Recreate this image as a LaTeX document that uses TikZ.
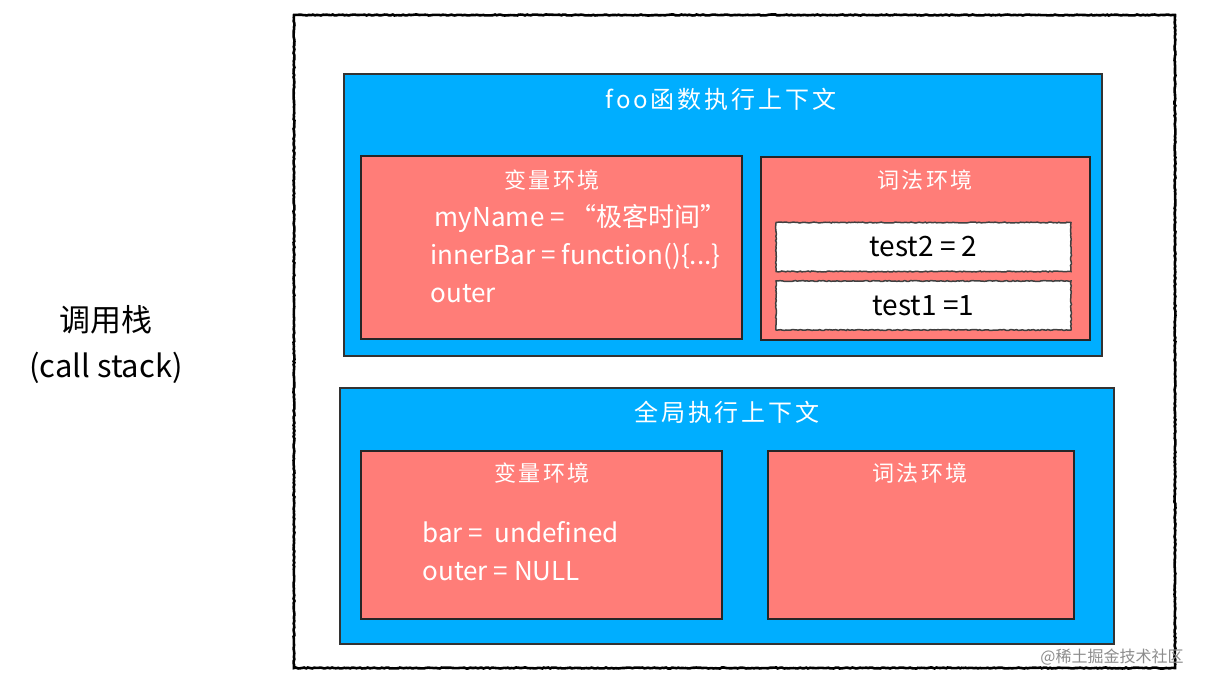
\documentclass[tikz,border=0pt]{standalone}
\usepackage{fontspec}
\usetikzlibrary{decorations.pathmorphing}
\setmainfont{Noto Sans CJK SC}
\newfontfamily\cjkwide[LetterSpace=12]{Noto Sans CJK SC}
\definecolor{ctxblue}{RGB}{0,174,255}
\definecolor{envred}{RGB}{255,125,120}

\begin{document}
\begin{tikzpicture}[
        x=1pt, y=-1pt,
        rough/.style={decorate, decoration={random steps, segment length=2pt, amplitude=0.5pt}},
        ctx/.style={draw=black!80, line width=1.5pt, fill=ctxblue, minimum width=#1},
        env/.style={draw=black!85, line width=2pt, fill=envred},
        slot/.style={rough, draw=black!75, line width=1.5pt, fill=white,
                     minimum width=295pt, minimum height=49pt, font=\fontsize{28}{32}\selectfont},
        title/.style={text=white, font=\cjkwide\fontsize{22}{26}\selectfont},
        vars/.style={text=white, align=left, anchor=west,
                     font=\fontsize{26}{38}\selectfont}
    ]
        \useasboundingbox (0,0) rectangle (1211,688);
        \node[rough, draw, line width=2.6pt, minimum width=881pt, minimum height=653pt] (stack) at (734.5,341.5) {};

        \node[ctx=758pt, minimum height=282pt] (fooctx) at (723,215) {};
        \node[env, minimum width=381pt, minimum height=183pt] (foovar) at (551.5,247.5) {};
        \node[env, minimum width=329pt, minimum height=183pt] (foolex) at (925.5,248.5) {};
        \node[slot] (test2) at (923.5,247) {test2 = 2};
        \node[slot] (test1) at (923.5,305.5) {test1 =1};

        \node[ctx=774pt, minimum height=256pt] (globctx) at (727,516) {};
        \node[env, minimum width=361pt, minimum height=168pt] (globvar) at (541.5,535) {};
        \node[env, minimum width=306pt, minimum height=168pt] (globlex) at (921,535) {};

        \node[title, font=\cjkwide\fontsize{24}{28}\selectfont] (footitle) at (721,99) {foo函数执行上下文};
        \node[title] (foovartitle) at (552,180) {变量环境};
        \node[title] (foolextitle) at (925,180) {词法环境};
        \node[vars] (foovals) at (427,254) {\,myName = “极客时间”\\innerBar = function()\{...\}\\outer};

        \node[title, font=\cjkwide\fontsize{24}{28}\selectfont] (globtitle) at (727,412) {全局执行上下文};
        \node[title] (globvartitle) at (542,473) {变量环境};
        \node[title] (globlextitle) at (920,473) {词法环境};
        \node[vars] (globvals) at (419,551) {bar =\ \ undefined\\outer = NULL};

        \node[font=\fontsize{31}{46}\selectfont, align=center] (label) at (106,345) {调用栈\\(call stack)};
        \node[text=black!45, font=\fontsize{16}{18}\selectfont] (mark) at (1112,657) {@稀土掘金技术社区};
    \end{tikzpicture}
\end{document}
